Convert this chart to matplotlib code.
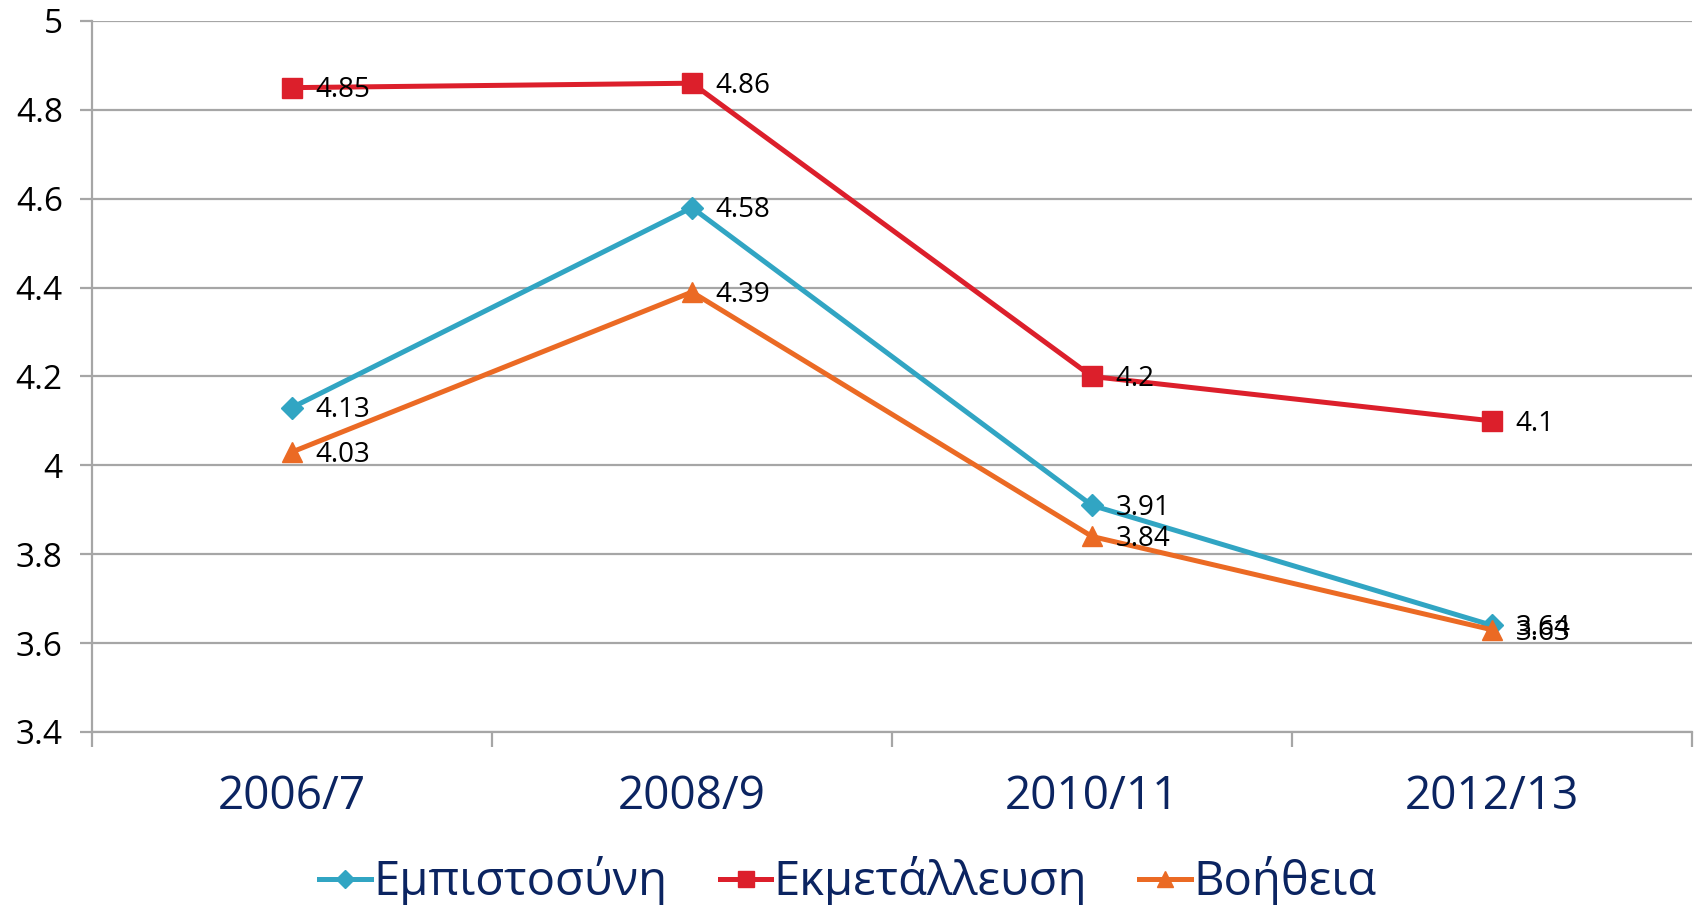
import matplotlib
matplotlib.use('Agg')
import matplotlib.pyplot as plt
from matplotlib.ticker import FixedLocator, NullFormatter

plt.rcParams['font.family'] = ['Open Sans', 'DejaVu Sans']

periods = ['2006/7', '2008/9', '2010/11', '2012/13']
trust = [4.13, 4.58, 3.91, 3.64]
exploit = [4.85, 4.86, 4.2, 4.1]
help_ = [4.03, 4.39, 3.84, 3.63]

series = [
    ('Εμπιστοσύνη', trust, '#31A5C3', 'D', 11),
    ('Εκμετάλλευση', exploit, '#DC1F2B', 's', 14),
    ('Βοήθεια', help_, '#EB6A24', '^', 15),
]

navy = '#0B2461'
grid_c = '#A6A6A6'

fig = plt.figure(figsize=(16.96, 9.05), dpi=100)
ax = fig.add_axes([0.0542, 0.1912, 0.9434, 0.7856])

x = list(range(len(periods)))
for name, vals, color, marker, ms in series:
    ax.plot(x, vals, color=color, lw=3.6, marker=marker, ms=ms, label=name,
            zorder=3, solid_joinstyle='miter')
    for xi, v in zip(x, vals):
        ax.annotate('%g' % v, (xi, v), xytext=(17, -2), textcoords='offset points',
                    ha='left', va='center', fontsize=20, color='black', zorder=4)

ax.set_xlim(-0.5, len(periods) - 0.5)
ax.set_ylim(3.4, 5.0)
ax.set_yticks([3.4 + 0.2 * i for i in range(9)])
ax.set_yticklabels(['3.4', '3.6', '3.8', '4', '4.2', '4.4', '4.6', '4.8', '5'])
ax.yaxis.grid(True, color=grid_c, lw=1.6)
ax.set_axisbelow(True)

ax.set_xticks(x)
ax.set_xticklabels(periods, fontsize=33, color=navy)
ax.xaxis.set_minor_locator(FixedLocator([i - 0.5 for i in range(len(periods) + 1)]))
ax.xaxis.set_minor_formatter(NullFormatter())
ax.tick_params(axis='x', which='major', length=0, pad=30)
ax.tick_params(axis='x', which='minor', length=11, width=1.6, color=grid_c)
ax.tick_params(axis='y', length=9, width=1.6, color=grid_c, labelsize=24, pad=12)

for s in ['top', 'right']:
    ax.spines[s].set_visible(False)
for s in ['left', 'bottom']:
    ax.spines[s].set_color(grid_c)
    ax.spines[s].set_linewidth(1.6)

leg = fig.legend(loc='center', bbox_to_anchor=(0.5, 0.026), ncol=3, frameon=False,
                 fontsize=34, handlelength=1.1, handletextpad=0.05, columnspacing=1.1,
                 markerscale=0.8)
for t in leg.get_texts():
    t.set_color(navy)

fig.savefig('out.png', dpi=100)
